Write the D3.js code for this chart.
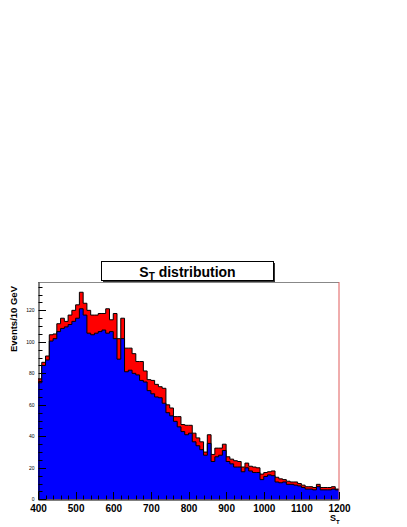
<!DOCTYPE html>
<html><head><meta charset="utf-8">
<script src="https://cdn.jsdelivr.net/npm/d3@7"></script>
<style>body{margin:0;background:#fff}svg{display:block}</style>
</head><body>
<script>
// bin lower edges: 400..1190 step 10
const binEdges = d3.range(400, 1201, 10);
const blueValues = [74,85,88.5,100.5,102,106.5,108.5,109.5,111,113,115,121,117,105.5,104.5,105.5,106.5,107.5,105.5,106.5,
  102,89,102,81,82,80,79,75.5,74.5,69,67,65,64.5,61,55,53,49.5,46,43,41,
  42,36.5,34,31.5,28,35.5,24,27,28,31,24,22.5,20.5,20.5,17.5,20,18,17,17,12.5,
  14.5,15.5,15,11,10.5,11,9.5,9.5,9,8.5,7.5,6.5,6.5,6,8,6,6,6,6.5,6];
const redValues = [2.5,2,2.5,4,3,5,6.5,3.5,6,7,8.5,10.5,7.5,14.5,12.5,11.5,11.5,10.5,15.5,7.5,
  16,13,13,15,14,12.5,8.5,12,7,7,8.5,8,7,9.5,5,5,3,6.5,4.5,6,
  5,5.5,5,5,2,5.5,4.5,5.5,4.5,4,3,3,4,3.5,3,3,3,3.5,3,3.5,
  2.5,2,3,3,2.5,1.5,2,1.5,2,1.5,1.5,1.5,1.5,1.5,1.5,1.5,1.5,1.5,1.5,0.5];
const xTicks = [400,500,600,700,800,900,1000,1100,1200];
const yTicks = [0,20,40,60,80,100,120];

const W = 407, H = 527;
const svg = d3.select("body").append("svg").attr("width", W).attr("height", H);

const x = d3.scaleLinear().domain([400, 1200]).range([38, 339]);
const y = d3.scaleLinear().domain([0, 138]).range([499.3, 282]);

const keys = ["blue", "red"];
const table = blueValues.map((b, i) => ({x0: binEdges[i], blue: b, red: redValues[i]}));
// closing point for step curves
table.push({x0: 1200, blue: blueValues[blueValues.length-1], red: redValues[redValues.length-1]});
const stacked = d3.stack().keys(keys)(table);
const colors = {blue: "#0000ff", red: "#ff0000"};

const fillArea = d3.area().curve(d3.curveStepAfter)
  .x(d => x(d.data.x0)).y0(y(0)).y1(d => y(d[1]));
const outline = d3.line().curve(d3.curveStepAfter).x(d => x(d.data.x0)).y(d => y(d[1]));
// THStack: total (red) drawn first, then blue on top
const total = stacked[1];
const blueS = stacked[0];
svg.append("path").datum(total).attr("d", fillArea).attr("fill", colors.red);
svg.append("path").datum(total).attr("d", outline).attr("fill", "none")
  .attr("stroke", "#000").attr("stroke-width", 1);
svg.append("path").datum(blueS).attr("d", fillArea).attr("fill", colors.blue);
svg.append("path").datum(blueS).attr("d", outline).attr("fill", "none")
  .attr("stroke", "#000").attr("stroke-width", 1);

// frame
svg.append("line").attr("x1", 38).attr("x2", 339).attr("y1", 282.5).attr("y2", 282.5)
  .attr("stroke", "#888").attr("stroke-width", 1);
svg.append("line").attr("x1", 339).attr("x2", 339).attr("y1", 282).attr("y2", 499.5)
  .attr("stroke", "#e05a5a").attr("stroke-width", 1);

// x axis
const xAxis = d3.axisBottom(x).tickValues(xTicks).tickSize(0).tickPadding(5)
  .tickFormat(d3.format("d"));
const gx = svg.append("g").attr("transform", "translate(0,499.5)").call(xAxis);
gx.select(".domain").attr("stroke", "#000");
gx.selectAll("text").attr("font-family", "Liberation Sans, Arial, sans-serif")
  .attr("font-size", 10).attr("font-weight", "bold").attr("fill", "#000");
const xMinor = d3.range(400, 1201, 20);
svg.append("g").selectAll("line").data(xMinor).join("line")
  .attr("x1", d => Math.round(x(d)) + 0.5).attr("x2", d => Math.round(x(d)) + 0.5)
  .attr("y1", 499.5).attr("y2", d => d % 100 === 0 ? 492 : 495.5)
  .attr("stroke", "#000").attr("stroke-width", 1);

// y axis
const yAxis = d3.axisLeft(y).tickValues(yTicks).tickSize(0).tickPadding(4);
const gy = svg.append("g").attr("transform", "translate(38.5,0)").call(yAxis);
gy.select(".domain").attr("stroke", "#000");
gy.selectAll("text").attr("font-family", "Liberation Sans, Arial, sans-serif")
  .attr("font-size", 5).attr("fill", "#000");
const yMinor = d3.range(0, 136, 5);
svg.append("g").selectAll("line").data(yMinor).join("line")
  .attr("y1", d => Math.round(y(d)) + 0.5).attr("y2", d => Math.round(y(d)) + 0.5)
  .attr("x1", 38.5).attr("x2", d => d % 20 === 0 ? 46 : 42.5)
  .attr("stroke", "#000").attr("stroke-width", 1);

// axis titles
svg.append("text").attr("transform", "translate(17,286) rotate(-90)")
  .attr("text-anchor", "end").attr("font-family", "Liberation Sans, Arial, sans-serif")
  .attr("font-size", 9.5).attr("font-weight", "bold").text("Events/10 GeV");
const xt = svg.append("text").attr("x", 330).attr("y", 521)
  .attr("font-family", "Liberation Sans, Arial, sans-serif").attr("font-weight", "bold")
  .attr("font-size", 9);
xt.append("tspan").text("S");
xt.append("tspan").attr("font-size", 6).attr("dy", 2.5).text("T");

// title box
svg.append("rect").attr("x", 103).attr("y", 263).attr("width", 172).attr("height", 19)
  .attr("fill", "#333");
svg.append("rect").attr("x", 101.5).attr("y", 261.5).attr("width", 172).attr("height", 19)
  .attr("fill", "#fff").attr("stroke", "#000").attr("stroke-width", 1);
const tt = svg.append("text").attr("x", 187.5).attr("y", 276.5).attr("text-anchor", "middle")
  .attr("font-family", "Liberation Sans, Arial, sans-serif").attr("font-weight", "bold")
  .attr("font-size", 14);
tt.append("tspan").text("S");
tt.append("tspan").attr("font-size", 10).attr("dy", 3).text("T");
tt.append("tspan").attr("dy", -3).text(" distribution");
</script>
</body></html>
